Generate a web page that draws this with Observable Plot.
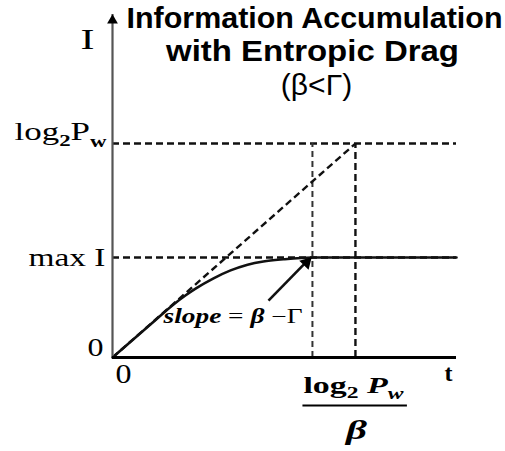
<!DOCTYPE html>
<html>
<head>
<meta charset="utf-8">
<script src="https://cdn.jsdelivr.net/npm/d3@7"></script>
<script src="https://cdn.jsdelivr.net/npm/@observablehq/plot@0.6"></script>
<style>
  body { margin: 0; background: #fff; }
  #chart svg { display: block; }
</style>
</head>
<body>
<div id="chart"></div>
<script>
// Levels marked on the I axis (in units of log2 Pw)
const levelLabels = ["0", "max I", "log2Pw"];
const levelValues = [0, 0.467, 1];

// Times marked on the t axis (in units of log2 Pw / β)
const timeLabels = ["0", "log2 Pw/β"];
const timeValues = [0, 1];

// Time at which the accumulated information levels off at max I
const saturationTime = 0.823;

// Axis extents
const tMax = 1.416;
const iMax = 1.603;

// Accumulated information I(t) with entropic drag
const curveT = [0, 0.156, 0.25, 0.3, 0.342, 0.416, 0.486, 0.556, 0.621, 0.704, 0.823, 1.416];
const curveI = [0, 0.154, 0.247, 0.29, 0.322, 0.37, 0.407, 0.434, 0.449, 0.459, 0.467, 0.467];

// Slope call-out
const calloutText = "slope = β − Γ";
const calloutTextAt = [0.21, 0.159];
const calloutFrom = [0.642, 0.266];
const calloutTo = [0.815, 0.467];

// Title and axis names
const titleLines = ["Information Accumulation", "with Entropic Drag", "(β<Γ)"];
const yName = "I";
const xName = "t";

const curve = curveT.map((t, i) => ({t, I: curveI[i]}));
const maxI = levelValues[1];
const log2Pw = levelValues[2];
const tStar = timeValues[1];
const [numerator, denominator] = timeLabels[1].split("/");

const serif = "'Liberation Serif', 'Times New Roman', serif";
const sans = "'Liberation Sans', Arial, sans-serif";
const dashed = {stroke: "#111", strokeWidth: 2.4, strokeDasharray: "7,4"};

const chart = Plot.plot({
  width: 505,
  height: 451,
  marginLeft: 112,
  marginRight: 49,
  marginTop: 14,
  marginBottom: 94,
  x: {domain: [0, tMax], axis: null},
  y: {domain: [0, iMax], axis: null},
  style: {background: "#fff", overflow: "visible"},
  marks: [
    // guide lines
    Plot.ruleY([log2Pw], {x1: 0, x2: tMax, ...dashed}),
    Plot.ruleY([maxI], {x1: 0, x2: tMax, ...dashed}),
    Plot.ruleX([saturationTime], {y1: 0, y2: log2Pw, ...dashed, stroke: "#333", strokeWidth: 2, strokeDasharray: "6,4"}),
    Plot.ruleX([tStar], {y1: 0, y2: log2Pw, ...dashed}),
    Plot.link([0], {x1: 0, y1: 0, x2: tStar, y2: log2Pw, ...dashed}),

    // accumulated information
    Plot.line(curve, {x: "t", y: "I", curve: "monotone-x", stroke: "#111", strokeWidth: 2.6}),

    // axes
    Plot.ruleX([0], {y1: 0, y2: iMax, stroke: "#555", strokeWidth: 2.2}),
    Plot.dot([0], {x: 0, y: iMax, symbol: "triangle", r: 4, fill: "#000", stroke: null, dy: 6}),
    Plot.ruleY([0], {x1: 0, x2: tMax, stroke: "#000", strokeWidth: 3}),

    // slope call-out arrow
    Plot.link([0], {x1: calloutFrom[0], y1: calloutFrom[1], x2: calloutTo[0], y2: calloutTo[1], stroke: "#111", strokeWidth: 2.6}),
    Plot.dot([0], {x: calloutTo[0], y: calloutTo[1], symbol: "triangle", r: 4.8, fill: "#000", stroke: null, rotate: 44, dx: -4, dy: 5}),
    Plot.text([calloutText], {x: calloutTextAt[0], y: calloutTextAt[1], text: d => d, textAnchor: "start", lineAnchor: "bottom", fontSize: 20, fontFamily: serif, fill: "#000"}),

    // title
    Plot.text([titleLines[0]], {frameAnchor: "top", text: d => d, dx: 30, dy: 13, lineAnchor: "bottom", fontSize: 30, fontWeight: "bold", fontFamily: sans, fill: "#000"}),
    Plot.text([titleLines[1]], {frameAnchor: "top", text: d => d, dx: 28, dy: 46, lineAnchor: "bottom", fontSize: 30, fontWeight: "bold", fontFamily: sans, fill: "#000"}),
    Plot.text([titleLines[2]], {frameAnchor: "top", text: d => d, dx: 32, dy: 80, lineAnchor: "bottom", fontSize: 30, fontFamily: sans, fill: "#000"}),

    // axis names
    Plot.text([yName], {frameAnchor: "top-left", text: d => d, dx: -32, dy: 34, lineAnchor: "bottom", fontSize: 30, fontFamily: serif, fill: "#000"}),
    Plot.text([xName], {frameAnchor: "bottom-right", text: d => d, dx: -4, dy: 23, lineAnchor: "bottom", fontSize: 24, fontWeight: "bold", fontFamily: serif, fill: "#000"}),

    // I-axis levels
    Plot.text([levelValues[0]], {x: 0, y: d => d, text: () => levelLabels[0], textAnchor: "end", lineAnchor: "bottom", dx: -9, dy: -2, fontSize: 25, fontFamily: serif, fill: "#000"}),
    Plot.text([levelValues[1]], {x: 0, y: d => d, text: () => levelLabels[1], textAnchor: "end", lineAnchor: "bottom", dx: -7, dy: 8, fontSize: 26, fontFamily: serif, fill: "#000"}),
    Plot.text([levelValues[2]], {x: 0, y: d => d, text: () => levelLabels[2], textAnchor: "end", lineAnchor: "bottom", dx: -6, dy: -4, fontSize: 26, fontFamily: serif, fill: "#000"}),

    // t-axis marks
    Plot.text([timeValues[0]], {x: d => d, y: 0, text: () => timeLabels[0], lineAnchor: "bottom", dx: 11, dy: 25, fontSize: 28, fontFamily: serif, fill: "#000"}),
    Plot.text([timeValues[1]], {x: d => d, y: 0, text: () => numerator, lineAnchor: "bottom", dx: -2, dy: 35, fontSize: 23, fontWeight: "bold", fontFamily: serif, fill: "#000"}),
    Plot.text([timeValues[1]], {x: d => d, y: 0, text: () => denominator, lineAnchor: "bottom", dx: 1, dy: 81, fontSize: 27, fontWeight: "bold", fontStyle: "italic", fontFamily: serif, fill: "#000"})
  ]
});

document.getElementById("chart").append(chart);

// Typeset the labels that need subscripts or mixed styles.
function typeset(el, parts, width) {
  el.textContent = "";
  let shift = 0;
  for (const p of parts) {
    const ts = document.createElementNS("http://www.w3.org/2000/svg", "tspan");
    ts.textContent = p.text;
    const drop = p.sub || 0;
    if (drop !== shift) ts.setAttribute("dy", drop - shift);
    shift = drop;
    if (p.weight) ts.setAttribute("font-weight", p.weight);
    if (p.style) ts.setAttribute("font-style", p.style);
    if (p.size) ts.setAttribute("font-size", p.size);
    el.appendChild(ts);
  }
  if (width) stretch(el, width);
}
function stretch(el, width) {
  el.setAttribute("textLength", width);
  el.setAttribute("lengthAdjust", "spacingAndGlyphs");
}
const texts = Array.from(chart.querySelectorAll("text"));
const byText = s => texts.find(t => t.textContent === s);

typeset(byText(levelLabels[2]), [
  {text: "log"},
  {text: "2", sub: 6, weight: "bold", size: 17},
  {text: "P"},
  {text: "w", sub: 7, weight: "bold", size: 17}
], 92);
typeset(byText(numerator), [
  {text: "log"},
  {text: "2", sub: 5, size: 16},
  {text: " "},
  {text: "P", style: "italic"},
  {text: "w", sub: 6, style: "italic", size: 16}
], 100);
typeset(byText(calloutText), [
  {text: "slope", weight: "bold", style: "italic"},
  {text: " = "},
  {text: "β", weight: "bold", style: "italic"},
  {text: " −Γ"}
], 139);
stretch(byText(titleLines[0]), 376);
stretch(byText(titleLines[1]), 293);
stretch(byText(levelLabels[1]), 77);
stretch(byText(yName), 14);
stretch(byText(denominator), 21);
for (const t of texts.filter(t => t.textContent === "0")) stretch(t, 16);

// Fraction bar under the numerator
const num = byText("log2 Pw");
const box = num.getBBox();
const m = num.getCTM();
const bar = document.createElementNS("http://www.w3.org/2000/svg", "line");
const left = m.e + box.x, right = m.e + box.x + box.width;
bar.setAttribute("x1", left - 1);
bar.setAttribute("x2", right + 3);
bar.setAttribute("y1", m.f + 13);
bar.setAttribute("y2", m.f + 13);
bar.setAttribute("stroke", "#000");
bar.setAttribute("stroke-width", 2);
chart.appendChild(bar);
</script>
</body>
</html>
